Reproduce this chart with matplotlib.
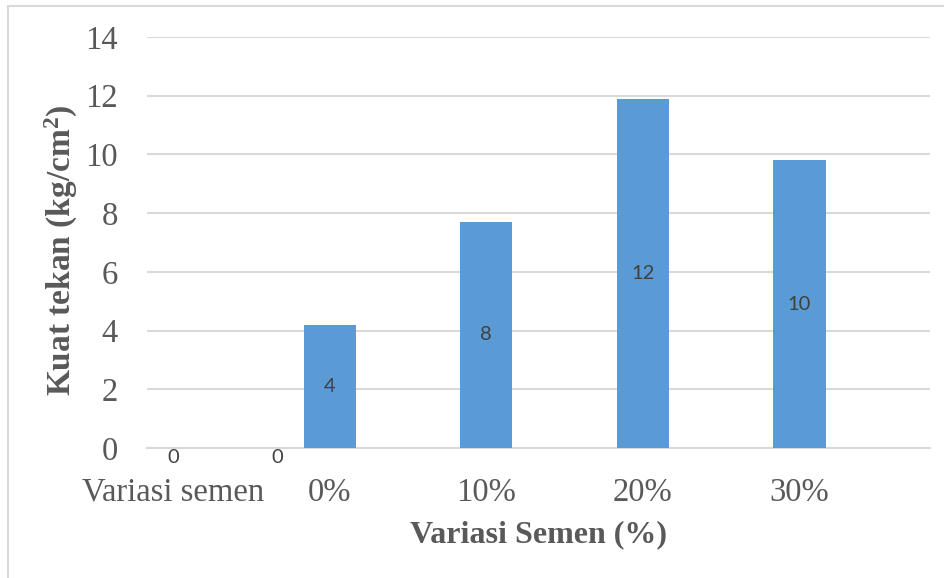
import numpy as np
import matplotlib
matplotlib.use("Agg")
import matplotlib.pyplot as plt
from matplotlib.patches import Rectangle

plt.rcParams["mathtext.fontset"] = "custom"
plt.rcParams["mathtext.rm"] = "Liberation Serif"
plt.rcParams["mathtext.bf"] = "Liberation Serif:bold"

# data
kategori = ["Variasi semen", "0%", "10%", "20%", "30%"]
kuat_tekan = [0, 4.2, 7.7, 11.9, 9.8]   # seri utama
seri_kosong = [0]                       # seri kedua, hanya kategori pertama
y_ticks = [0, 2, 4, 6, 8, 10, 12, 14]

abu = "#595959"
biru = "#5b9bd5"
grid = "#d9d9d9"

fig = plt.figure(figsize=(9.44, 5.78), dpi=100)
ax = fig.add_axes([147 / 944, 130 / 578, 783 / 944, 411 / 578])

x = np.arange(len(kategori))
lebar = 1 / 3
b1 = ax.bar(x - lebar, kuat_tekan, width=lebar, color=biru, zorder=3)
b2 = ax.bar(x[:len(seri_kosong)] + lebar, seri_kosong, width=lebar, color=biru, zorder=3)

# label nilai di tengah batang
for bars, vals in ((b1, kuat_tekan), (b2, seri_kosong)):
    for r, v in zip(bars, vals):
        cx = r.get_x() + r.get_width() / 2
        if v == 0:
            ax.text(cx, -0.02, f"{v:.0f}", ha="center", va="top", fontsize=14.5,
                    family="Lato", color="#404040", zorder=4)
        else:
            ax.text(cx, v / 2, f"{v:.0f}", ha="center", va="center", fontsize=14.5,
                    family="Lato", color="#404040", zorder=4)

ax.set_xlim(-0.5, 4.5)
ax.set_ylim(0, 14)
ax.set_yticks(y_ticks)
ax.set_xticks(x - lebar)
ax.set_xticklabels(kategori)
ax.grid(axis="y", color=grid, linewidth=1.5, zorder=0)
ax.set_axisbelow(True)
for s in ["top", "right", "left"]:
    ax.spines[s].set_visible(False)
ax.spines["bottom"].set_color(grid)
ax.spines["bottom"].set_linewidth(1.5)
ax.tick_params(length=0)
ax.tick_params(axis="y", pad=21)
ax.tick_params(axis="x", pad=21)
for t in ax.get_xticklabels() + ax.get_yticklabels():
    t.set_fontfamily("Liberation Serif")
    t.set_fontsize(23.5)
    t.set_color(abu)

ax.set_xlabel("Variasi Semen (%)", fontsize=23, fontweight="bold",
              family="Liberation Serif", color=abu, labelpad=9)
ax.set_ylabel(r"Kuat tekan (kg/cm$\mathbf{^2}$)", fontsize=24, fontweight="bold",
              family="Liberation Serif", color=abu)
ax.yaxis.set_label_coords(-0.085, 0.48)

# bingkai area grafik
fig.patches.append(Rectangle((8 / 944, -0.1), 1.2, (578 - 6) / 578 + 0.1,
                             transform=fig.transFigure, fill=False,
                             edgecolor=grid, linewidth=1.5))

fig.savefig("out.png", dpi=100)
